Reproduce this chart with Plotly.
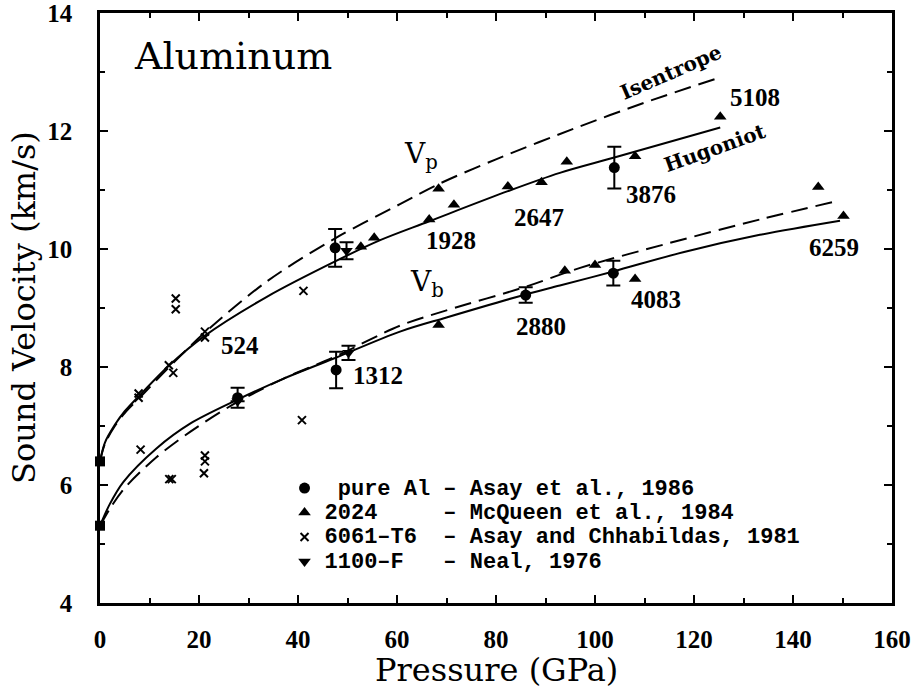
import plotly.graph_objects as go

# ---------------- data ----------------
# ambient (zero-pressure) sound velocities
amb_P = [0.0, 0.0]
amb_V = [6.40, 5.31]

# pure Al - Asay et al., 1986 (circles with error bars)
pureAl_P = [47.5, 103.9, 27.8, 47.7, 86.0, 103.7]
pureAl_V = [10.02, 11.38, 7.48, 7.95, 9.22, 9.59]
pureAl_err = [0.32, 0.355, 0.17, 0.31, 0.13, 0.21]

# 2024 - McQueen et al., 1984 (triangles)
al2024_P = [52.7, 55.4, 66.5, 68.4, 71.5, 82.4, 89.2, 94.3, 108.1, 125.3,
            68.4, 93.9, 100.0, 108.1, 145.1, 150.2]
al2024_V = [10.04, 10.19, 10.50, 11.02, 10.75, 11.06, 11.13, 11.48, 11.57, 12.24,
            8.71, 9.63, 9.73, 9.49, 11.05, 10.56]

# 6061-T6 - Asay and Chhabildas, 1981 (crosses)
al6061_P = [7.8, 7.8, 13.9, 14.8, 15.3, 15.3, 21.2, 21.2, 41.1,
            8.2, 14.0, 14.5, 21.2, 21.2, 21.0, 40.8]
al6061_V = [7.55, 7.48, 8.03, 7.90, 9.16, 8.98, 8.60, 8.50, 9.29,
            6.60, 6.10, 6.10, 6.50, 6.40, 6.20, 7.10]

# 1100-F - Neal, 1976 (inverted triangles)
al1100_P = [49.8, 27.8, 50.2]
al1100_V = [9.97, 7.42, 8.24]
al1100_err = [0.145, 0.0, 0.12]

# Vp Hugoniot (solid) and isentrope (dashed)
vpH_P = [0, 1, 3, 5, 8, 14, 21, 33.7, 47.5, 56.6, 66.5, 82.4, 92.9, 103.9, 125.3]
vpH_V = [6.40, 6.72, 7.02, 7.25, 7.52, 8.03, 8.52, 9.19, 9.79, 10.15, 10.47, 10.98, 11.29, 11.55, 12.06]
vpS_P = [0, 1, 3, 5, 8, 14, 21, 33.7, 47.5, 60.6, 68.4, 80, 97, 110, 125.3]
vpS_V = [6.40, 6.70, 7.00, 7.22, 7.48, 8.00, 8.57, 9.45, 10.18, 10.76, 11.10, 11.52, 12.08, 12.48, 12.91]

# Vb Hugoniot (solid) and isentrope (dashed)
vbH_P = [0, 2, 4.7, 11.4, 18.2, 27.6, 37, 47.1, 60.6, 70, 86, 92.9, 103.7, 118, 133.3, 149.5]
vbH_V = [5.31, 5.68, 6.05, 6.62, 7.04, 7.44, 7.80, 8.14, 8.60, 8.84, 9.23, 9.38, 9.62, 9.95, 10.24, 10.48]
vbS_P = [0, 2, 5, 11.4, 18.2, 27.6, 37, 47.1, 60.6, 70, 86, 97, 115, 133.3, 148.8]
vbS_V = [5.31, 5.60, 5.95, 6.47, 6.90, 7.40, 7.80, 8.16, 8.70, 8.96, 9.36, 9.68, 10.10, 10.50, 10.81]

# labels of individual points (P, V, text)
lab_P = [28.3, 56.2, 70.9, 88.7, 89.1, 111.3, 112.3, 132.3, 148.3]
lab_V = [8.37, 7.86, 10.15, 10.53, 8.69, 10.92, 9.14, 12.56, 10.02]
lab_T = ["524", "1312", "1928", "2647", "2880", "3876", "4083", "5108", "6259"]

legend_names = [
    "\u00a0pure Al \u2013 Asay et al., 1986",
    "2024\u00a0\u00a0\u00a0\u00a0\u00a0\u2013 McQueen et al., 1984",
    "6061\u2013T6\u00a0\u00a0\u2013 Asay and Chhabildas, 1981",
    "1100\u2013F\u00a0\u00a0\u00a0\u2013 Neal, 1976",
]

# ---------------- figure ----------------
BLACK = "black"
fig = go.Figure()

def curve(P, V, dash):
    fig.add_trace(go.Scatter(x=P, y=V, mode="lines", showlegend=False, hoverinfo="skip",
                             line=dict(color=BLACK, width=2, dash=dash, shape="spline", smoothing=0.9)))

curve(vpS_P, vpS_V, "17px,8px")
curve(vpH_P, vpH_V, "solid")
curve(vbS_P, vbS_V, "17px,8px")
curve(vbH_P, vbH_V, "solid")

fig.add_trace(go.Scatter(x=amb_P, y=amb_V, mode="markers", showlegend=False, cliponaxis=False,
                         marker=dict(symbol="square", size=10, color=BLACK)))

def span(t):
    return '<span style="font-size:22px">' + t + '</span>'

fig.add_trace(go.Scatter(x=pureAl_P, y=pureAl_V, mode="markers", name=span(legend_names[0]),
                         marker=dict(symbol="circle", size=11, color=BLACK),
                         error_y=dict(type="data", array=pureAl_err, color=BLACK, thickness=2, width=7)))
fig.add_trace(go.Scatter(x=al2024_P, y=al2024_V, mode="markers", name=span(legend_names[1]),
                         marker=dict(symbol="triangle-up", size=11, color=BLACK)))
fig.add_trace(go.Scatter(x=al6061_P, y=al6061_V, mode="markers", name=span(legend_names[2]),
                         marker=dict(symbol="x-thin", size=8, color=BLACK, line=dict(color=BLACK, width=2))))
fig.add_trace(go.Scatter(x=al1100_P, y=al1100_V, mode="markers", name=span(legend_names[3]),
                         marker=dict(symbol="triangle-down", size=11, color=BLACK),
                         error_y=dict(type="data", array=al1100_err, color=BLACK, thickness=2, width=7)))

ann = []
NUMFONT = dict(family="Liberation Serif", size=25, color=BLACK)
for p, v, t in zip(lab_P, lab_V, lab_T):
    ann.append(dict(x=p, y=v, xref="x", yref="y", text="<b>" + t + "</b>", showarrow=False,
                    font=NUMFONT, xanchor="center", yanchor="middle"))

TITLEFONT = dict(family="DejaVu Serif", size=32, color=BLACK)
ann += [
    dict(x=6.5, y=13.27, xref="x", yref="y", text="Aluminum", showarrow=False,
         xanchor="left", yanchor="middle", font=dict(family="DejaVu Serif", size=38, color=BLACK)),
    dict(x=115.4, y=13.0, xref="x", yref="y", text="<b>Isentrope</b>", showarrow=False, textangle=-23.5,
         xanchor="center", yanchor="middle", font=dict(family="DejaVu Serif", size=20, color=BLACK)),
    dict(x=124.2, y=11.71, xref="x", yref="y", text="<b>Hugoniot</b>", showarrow=False, textangle=-19.6,
         xanchor="center", yanchor="middle", font=dict(family="DejaVu Serif", size=20, color=BLACK)),
    dict(x=64.8, y=11.58, xref="x", yref="y", text="V<sub>p</sub>", showarrow=False,
         xanchor="center", yanchor="middle", font=dict(family="DejaVu Serif", size=28, color=BLACK)),
    dict(x=66.1, y=9.42, xref="x", yref="y", text="V<sub>b</sub>", showarrow=False,
         xanchor="center", yanchor="middle", font=dict(family="DejaVu Serif", size=28, color=BLACK)),
    # axis titles
    dict(x=0.5, y=0, xref="paper", yref="paper", text="Pressure (GPa)", showarrow=False,
         xanchor="center", yanchor="middle", yshift=-67, font=TITLEFONT),
    dict(x=0, y=0.5, xref="paper", yref="paper", text="Sound Velocity (km/s)", showarrow=False,
         xanchor="center", yanchor="middle", xshift=-76, textangle=-90, font=TITLEFONT),
]

TICKFONT = dict(family="Liberation Serif", size=25, color=BLACK, weight="bold")
axis_common = dict(showline=True, linewidth=2.5, linecolor=BLACK, mirror="ticks",
                   ticks="inside", ticklen=8, tickwidth=2, tickcolor=BLACK,
                   showgrid=False, zeroline=False, tickfont=TICKFONT, automargin=False,
                   ticklabeloverflow="allow")

fig.update_layout(
    width=912, height=688,
    margin=dict(l=100, r=20, t=13, b=85),
    paper_bgcolor="white", plot_bgcolor="white",
    annotations=ann,
    legend=dict(x=0.233, y=0.224, xanchor="left", yanchor="top", bgcolor="rgba(0,0,0,0)",
                font=dict(family="Liberation Mono", size=16.5, color=BLACK, weight="bold"),
                itemclick=False),
    xaxis=dict(range=[0, 160], tickvals=[0, 20, 40, 60, 80, 100, 120, 140, 160],
               minor=dict(dtick=10, ticks="inside", ticklen=5, tickwidth=2, tickcolor=BLACK),
               ticklabelstandoff=12, **axis_common),
    yaxis=dict(range=[4, 14], tickvals=[4, 6, 8, 10, 12, 14],
               minor=dict(dtick=1, ticks="inside", ticklen=5, tickwidth=2, tickcolor=BLACK),
               ticklabelstandoff=20, **axis_common),
)

# remove the default page margin so the 912x688 figure fills the window exactly
fig.write_html("out.html", config={"displayModeBar": False},
               post_script="document.body.style.margin='0';document.body.style.overflow='hidden';")
